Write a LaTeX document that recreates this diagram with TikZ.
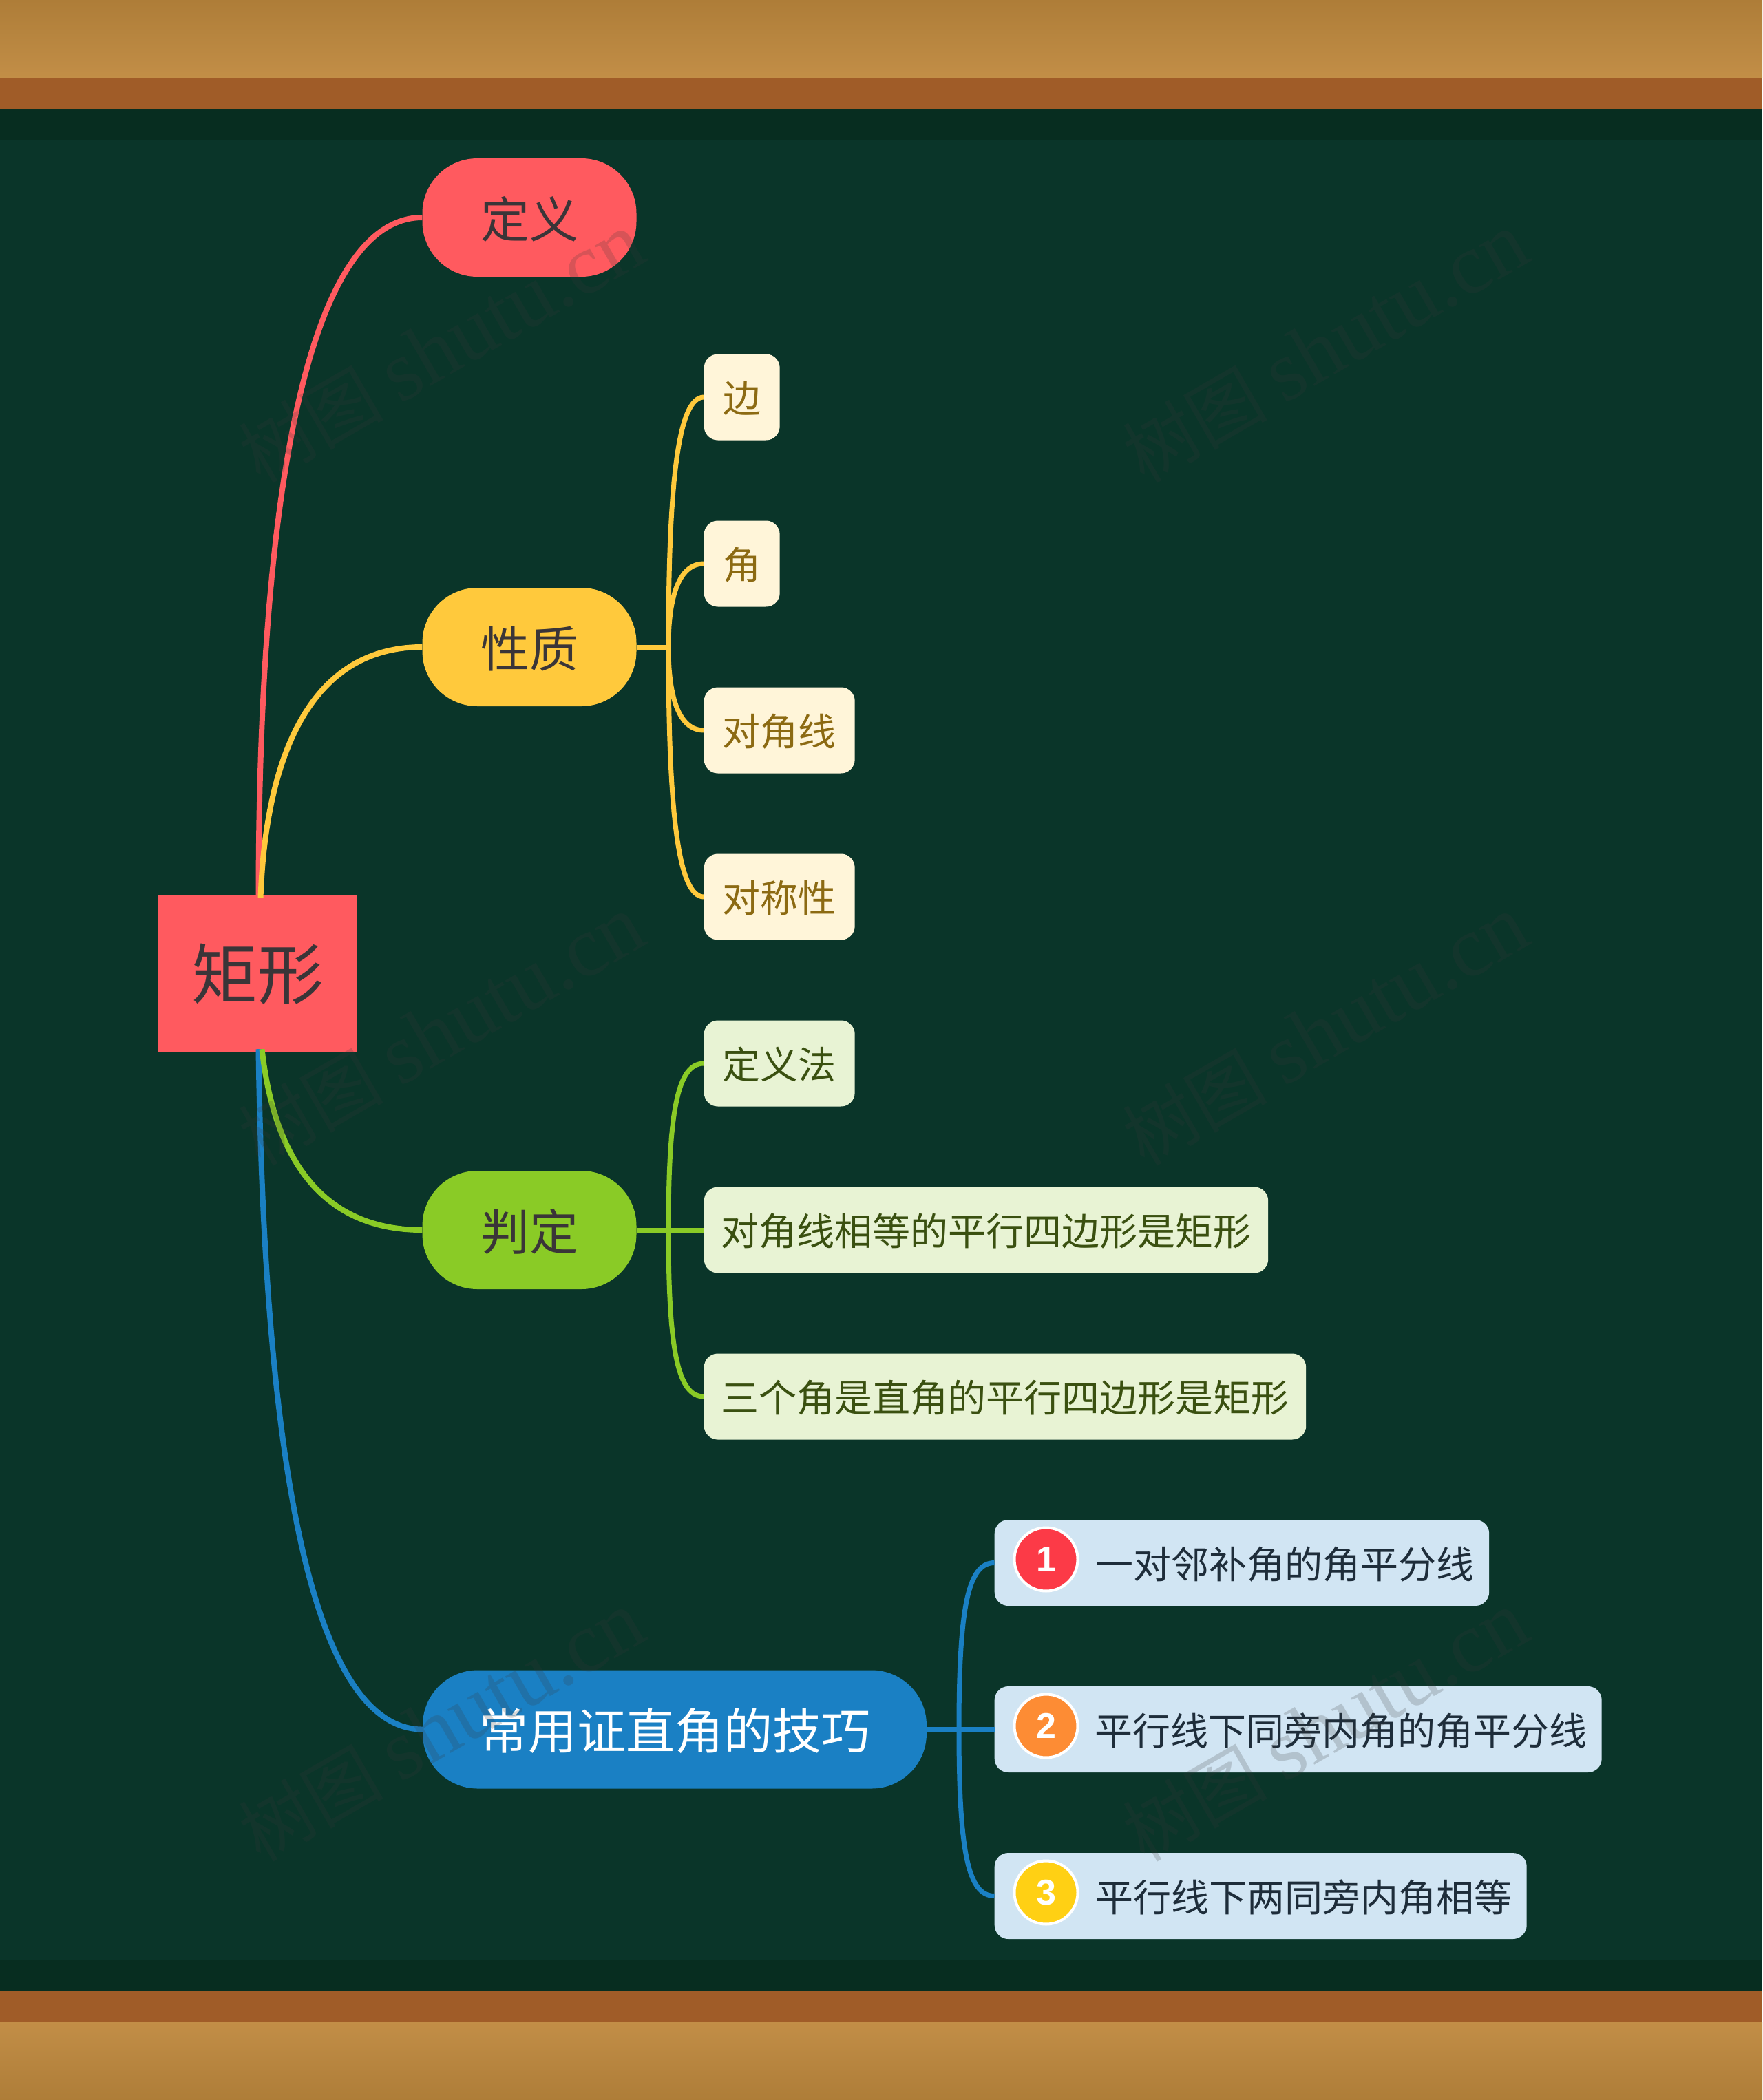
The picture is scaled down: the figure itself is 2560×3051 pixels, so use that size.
\documentclass[tikz,border=0pt]{standalone}
\usepackage{fontspec}
\setmainfont{Noto Sans CJK SC}
\newfontfamily\wmlatin{Liberation Serif}
\newfontfamily\iconfont{Liberation Sans}
\definecolor{woodA}{HTML}{AE7D38}
\definecolor{woodB}{HTML}{C28E47}
\definecolor{woodC}{HTML}{A05C28}
\definecolor{woodEdge}{HTML}{8F5A22}
\definecolor{darkstrip}{HTML}{072D20}
\definecolor{board}{HTML}{0A3529}
\definecolor{cRed}{HTML}{FF5A5F}
\definecolor{cYel}{HTML}{FFC93C}
\definecolor{cGre}{HTML}{8ACB26}
\definecolor{cBlu}{HTML}{1A80C4}
\definecolor{lYel}{HTML}{FFF5D9}
\definecolor{tYel}{HTML}{8C6A12}
\definecolor{lGre}{HTML}{E8F3D4}
\definecolor{tGre}{HTML}{3A5010}
\definecolor{lBlu}{HTML}{D1E5F3}
\definecolor{tBlu}{HTML}{1E2D3A}
\definecolor{tDark}{HTML}{3A3538}
\definecolor{wmc}{HTML}{393939}
\definecolor{iconA}{HTML}{FC3A47}
\definecolor{iconB}{HTML}{FD8C34}
\definecolor{iconC}{HTML}{FFD014}
\tikzset{
 rootbox/.style={fill=cRed,text=tDark,inner sep=0pt,minimum width=289pt,minimum height=227pt,text height=73pt,text depth=0pt,font=\fontsize{96}{96}\selectfont},
 mainbox/.style={inner sep=0pt,rounded corners=80pt,minimum height=172pt,text height=58pt,text depth=0pt,font=\fontsize{71}{71}\selectfont,text=tDark},
 leafbox/.style={inner sep=0pt,rounded corners=20pt,minimum height=125pt,text height=45.4pt,text depth=0pt,font=\fontsize{55}{55}\selectfont},
 yleaf/.style={leafbox,fill=lYel,text=tYel},
 gleaf/.style={leafbox,fill=lGre,text=tGre},
 bleaf/.style={leafbox,fill=lBlu,text=tBlu},
 conn/.style={line width=8pt},
 subconn/.style={line width=7pt},
 iconbox/.style={circle,inner sep=0pt,minimum size=92pt,draw=white,line width=4pt,text=white,font=\iconfont\bfseries\fontsize{52}{52}\selectfont},
 wmark/.style={rotate=30,text=wmc,text opacity=.2,inner sep=0pt,font=\fontsize{105}{105}\selectfont},
}
\begin{document}
\begin{tikzpicture}[x=1pt,y=-1pt]
\useasboundingbox (0,0) rectangle (2560,3051);
\fill[board] (0,0) rectangle (2560,3051);
\fill[darkstrip] (0,158) rectangle (2560,203);
\fill[darkstrip] (0,2847) rectangle (2560,2892);
\fill[woodC] (0,113) rectangle (2560,158);
\fill[woodC] (0,2892) rectangle (2560,2937);
\shade[top color=woodA,bottom color=woodB] (0,0) rectangle (2560,113);
\shade[top color=woodB,bottom color=woodA] (0,2937) rectangle (2560,3051);
\fill[woodEdge] (0,112.5) rectangle (2560,114);

\node[rootbox] (root) at (374.5,1414.5) {矩形};

\node[mainbox,fill=cRed,minimum width=311pt] (def) at (769,316) {定义};
\node[mainbox,fill=cYel,minimum width=311pt] (prop) at (769,940) {性质};
\node[mainbox,fill=cGre,minimum width=311pt] (judge) at (769,1787) {判定};
\node[mainbox,fill=cBlu,text=white,minimum width=732pt] (skill) at (980,2512.5) {常用证直角的技巧};

\node[yleaf,minimum width=110pt,anchor=west] (y1) at (1022.5,577) {边};
\node[yleaf,minimum width=110pt,anchor=west] (y2) at (1022.5,819) {角};
\node[yleaf,minimum width=219pt,anchor=west] (y3) at (1022.5,1061) {对角线};
\node[yleaf,minimum width=219pt,anchor=west] (y4) at (1022.5,1303) {对称性};
\node[gleaf,minimum width=219pt,anchor=west] (g1) at (1022.5,1545) {定义法};
\node[gleaf,minimum width=819.5pt,anchor=west] (g2) at (1022.5,1787) {对角线相等的平行四边形是矩形};
\node[gleaf,minimum width=874.5pt,anchor=west] (g3) at (1022.5,2029) {三个角是直角的平行四边形是矩形};
\node[bleaf,minimum width=718.5pt,anchor=west] (b1) at (1444.5,2270.5) {\hspace{125pt}一对邻补角的角平分线};
\node[bleaf,minimum width=882pt,anchor=west] (b2) at (1444.5,2512.5) {\hspace{125pt}平行线下同旁内角的角平分线};
\node[bleaf,minimum width=773pt,anchor=west] (b3) at (1444.5,2754.5) {\hspace{125pt}平行线下两同旁内角相等};

\node[iconbox,fill=iconA] (i1) at ([xshift=75pt,yshift=5pt]b1.west) {1};
\node[iconbox,fill=iconB] (i2) at ([xshift=75pt,yshift=5pt]b2.west) {2};
\node[iconbox,fill=iconC] (i3) at ([xshift=75pt,yshift=5pt]b3.west) {3};

\coordinate (rt1) at ([xshift=1pt,yshift=-4pt]root.north);
\coordinate (rt2) at ([xshift=4pt,yshift=-4pt]root.north);
\coordinate (rb1) at ([xshift=1pt,yshift=4pt]root.south);
\coordinate (rb2) at ([xshift=6pt,yshift=4pt]root.south);

\draw[conn,cRed] (rt1) .. controls (376,620) and (470,316) .. (def.west);
\draw[conn,cYel] (rt2) .. controls (385,1120) and (440,940) .. (prop.west);
\draw[conn,cBlu] (rb1) .. controls (385,2200) and (470,2512.5) .. (skill.west);
\draw[conn,cGre] (rb2) .. controls (400,1700) and (480,1787) .. (judge.west);

\coordinate (ty) at (971,940);
\coordinate (tg) at (971,1787);
\coordinate (tb) at (1393,2512.5);
\draw[subconn,cYel] (prop.east) -- (ty);
\draw[subconn,cYel] (ty) .. controls (971,700) and (985,577) .. (y1.west);
\draw[subconn,cYel] (ty) .. controls (971,870) and (985,819) .. (y2.west);
\draw[subconn,cYel] (ty) .. controls (971,1010) and (985,1061) .. (y3.west);
\draw[subconn,cYel] (ty) .. controls (971,1180) and (985,1303) .. (y4.west);
\draw[subconn,cGre] (judge.east) -- (g2.west);
\draw[subconn,cGre] (tg) .. controls (971,1610) and (985,1545) .. (g1.west);
\draw[subconn,cGre] (tg) .. controls (971,1964) and (985,2029) .. (g3.west);
\draw[subconn,cBlu] (skill.east) -- (b2.west);
\draw[subconn,cBlu] (tb) .. controls (1393,2335) and (1406,2270.5) .. (b1.west);
\draw[subconn,cBlu] (tb) .. controls (1393,2690) and (1406,2754.5) .. (b3.west);

\foreach \n/\x/\y in {w1/642/506,w2/1926/506,w3/642/1498,w4/1926/1498,w5/642/2509,w6/1926/2509}{
 \node[wmark] (\n) at (\x,\y) {树图 {\wmlatin\fontsize{125}{125}\selectfont shutu.cn}};
}
\end{tikzpicture}
\end{document}
